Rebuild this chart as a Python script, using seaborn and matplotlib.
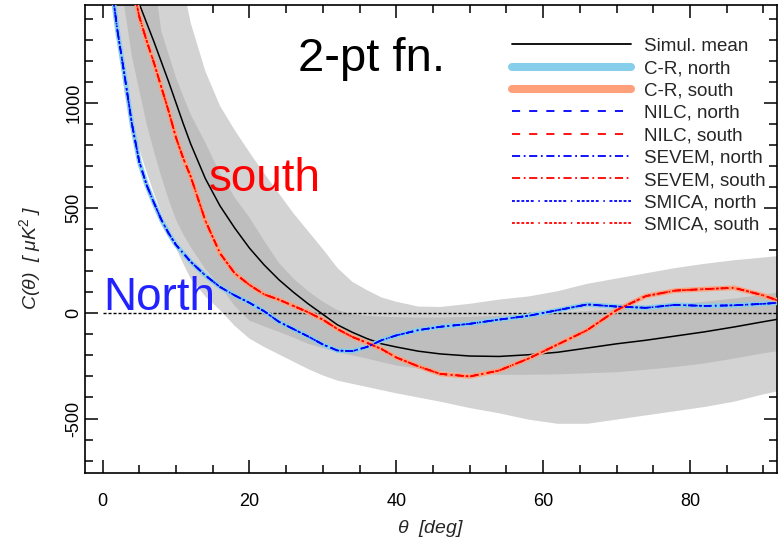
import matplotlib
matplotlib.use("Agg")
import matplotlib.pyplot as plt
from matplotlib.lines import Line2D
from matplotlib.ticker import MultipleLocator
import numpy as np
import pandas as pd
import seaborn as sns

# ---------------- data ----------------
theta = [0, 1, 2, 3, 4, 5, 6, 7, 8, 9, 10, 11, 12, 14, 16, 18, 20, 22, 24, 26, 28, 30,
         32, 34, 36, 38, 40, 43, 46, 50, 54, 58, 62, 66, 70, 74, 78, 82, 86, 90, 92]

simul_mean = [2900, 2600, 2300, 2000, 1720, 1470, 1380, 1290, 1195, 1100, 1000, 900, 805,
              640, 510, 405, 310, 230, 160, 100, 45, -5,
              -55, -90, -120, -145, -160, -180, -193, -203, -205, -197,
              -185, -165, -145, -128, -108, -88, -65, -40, -28]

north = [2000, 1620, 1350, 1130, 900, 720, 610, 525, 445, 380, 325, 285, 245,
         180, 125, 85, 50, 10, -40, -75, -110, -148,
         -177, -180, -160, -128, -105, -80, -64, -50, -30, -12,
         15, 42, 32, 26, 40, 35, 38, 45, 50]

south = [3500, 2800, 2300, 1900, 1580, 1410, 1295, 1190, 1075, 960, 835, 735, 650,
         440, 285, 190, 135, 90, 65, 35, 5, -30,
         -75, -112, -140, -170, -210, -252, -288, -300, -272, -215,
         -148, -80, 15, 82, 108, 115, 121, 85, 60]

band68_lo = [2500, 2100, 1750, 1450, 1220, 1060, 900, 770, 650, 540, 445, 375, 315,
             210, 130, 35, -35, -62, -88, -115, -145, -165,
             -185, -200, -215, -232, -248, -262, -275, -287, -292, -292,
             -290, -285, -280, -268, -255, -238, -215, -190, -180]

band68_hi = [5000, 4200, 3500, 2900, 2400, 2050, 1800, 1600, 1340, 1230, 1120, 1030, 945,
             810, 665, 550, 455, 345, 240, 165, 105, 55,
             15, -5, -12, -16, -18, -20, -20, -17, -12, -5,
             3, 10, 20, 30, 42, 55, 70, 88, 100]

band95_lo = [2200, 1750, 1330, 1050, 900, 780, 670, 570, 475, 390, 310, 235, 165,
             80, 15, -60, -120, -160, -195, -230, -265, -295,
             -320, -335, -350, -365, -380, -400, -420, -450, -475, -505,
             -525, -525, -505, -485, -465, -445, -420, -385, -370]

band95_hi = [8000, 7000, 6000, 5000, 4200, 3500, 3000, 2600, 2200, 1900, 1700, 1550, 1380,
             1150, 985, 870, 765, 665, 570, 475, 390, 305,
             215, 150, 110, 75, 55, 32, 30, 45, 65, 80,
             105, 140, 165, 190, 215, 235, 252, 265, 272]

legend_labels = ["Simul. mean", "C-R, north", "C-R, south", "NILC, north", "NILC, south",
                 "SEVEM, north", "SEVEM, south", "SMICA, north", "SMICA, south"]

# ---------------- style ----------------
sns.set_theme(style="ticks")
plt.rcParams["font.family"] = ["Liberation Sans", "DejaVu Sans"]
plt.rcParams["mathtext.fontset"] = "custom"
plt.rcParams["mathtext.it"] = "Liberation Sans:italic"
plt.rcParams["mathtext.rm"] = "Liberation Sans"
plt.rcParams["axes.unicode_minus"] = False

BLUE = "#0000ff"
RED = "#ff0000"
CR_N = "#87ceeb"
CR_S = "#ffa07a"
LIGHT = "#d3d3d3"
DARK = "#bebebe"

LS_NILC = (0, (4.5, 5.0))
LS_SEVEM = (0, (4.5, 2.0, 1.0, 2.0))
LS_SMICA = (0, (1.6, 1.0, 1.6, 1.0, 1.6, 1.0, 1.6, 1.0, 1.6, 2.6, 0.8, 2.6))

df = pd.DataFrame({"theta": theta, "mean": simul_mean, "north": north, "south": south,
                   "lo68": band68_lo, "hi68": band68_hi, "lo95": band95_lo, "hi95": band95_hi})

fig = plt.figure(figsize=(7.79, 5.44), dpi=100)
ax = fig.add_axes([0.109, 0.130, 0.888, 0.861])

ax.fill_between(df["theta"], df["lo95"], df["hi95"], color=LIGHT, lw=0, zorder=1)
ax.fill_between(df["theta"], df["lo68"], df["hi68"], color=DARK, lw=0, zorder=2)

ax.axhline(0, xmin=0.026, color="black", lw=1.0, ls=(0, (2.2, 1.4)), zorder=3)

sns.lineplot(data=df, x="theta", y="mean", ax=ax, color="black", lw=1.1, zorder=4)
sns.lineplot(data=df, x="theta", y="north", ax=ax, color=CR_N, lw=3.4, zorder=5)
sns.lineplot(data=df, x="theta", y="south", ax=ax, color=CR_S, lw=3.4, zorder=5)
for ls in (LS_NILC, LS_SEVEM, LS_SMICA):
    sns.lineplot(data=df, x="theta", y="north", ax=ax, color=BLUE, lw=1.2, ls=ls, zorder=6)
    sns.lineplot(data=df, x="theta", y="south", ax=ax, color=RED, lw=1.2, ls=ls, zorder=6)

ax.set_xlim(-2.4, 91.8)
ax.set_ylim(-760, 1465)

ax.set_xticks([0, 20, 40, 60, 80])
ax.set_yticks([-500, 0, 500, 1000])
ax.xaxis.set_minor_locator(MultipleLocator(5))
ax.yaxis.set_minor_locator(MultipleLocator(100))
ax.tick_params(which="both", direction="in", top=True, right=True, width=1.1, colors="black")
ax.tick_params(which="major", length=9.5, labelsize=13)
ax.tick_params(which="minor", length=5.5)
ax.tick_params(axis="x", which="major", pad=14)
ax.tick_params(axis="y", which="major", pad=2)
for lab in ax.get_yticklabels():
    lab.set_rotation(90)
    lab.set_va("center")
for sp in ax.spines.values():
    sp.set_linewidth(1.2)
    sp.set_color("black")

ax.set_xlabel(r"$\theta$  [deg]", fontsize=14, fontstyle="italic")
ax.set_ylabel(r"C($\theta$)  [ $\mu$K$^2$ ]", fontsize=14, fontstyle="italic")
ax.xaxis.set_label_coords(0.5, -0.095)
ax.yaxis.set_label_coords(-0.06, 0.46)

ax.text(26.6, 1150, "2-pt fn.", fontsize=34, color="black", ha="left", va="baseline")
ax.text(14.4, 580, "south", fontsize=33, color=RED, ha="left", va="baseline")
ax.text(0.1, 14, "North", fontsize=33, color="#2222ff", ha="left", va="baseline")

handles = [
    Line2D([], [], color="black", lw=1.3),
    Line2D([], [], color=CR_N, lw=5.8),
    Line2D([], [], color=CR_S, lw=5.8),
    Line2D([], [], color=BLUE, lw=1.3, ls=LS_NILC),
    Line2D([], [], color=RED, lw=1.3, ls=LS_NILC),
    Line2D([], [], color=BLUE, lw=1.3, ls=LS_SEVEM),
    Line2D([], [], color=RED, lw=1.3, ls=LS_SEVEM),
    Line2D([], [], color=BLUE, lw=1.3, ls=LS_SMICA),
    Line2D([], [], color=RED, lw=1.3, ls=LS_SMICA),
]
ax.legend(handles, legend_labels, loc="upper left", bbox_to_anchor=(0.618, 0.93),
          frameon=False, fontsize=13.5, handlelength=6.35, handletextpad=0.68,
          labelspacing=0.28, borderpad=0, borderaxespad=0)

fig.savefig("out.png", dpi=100)
